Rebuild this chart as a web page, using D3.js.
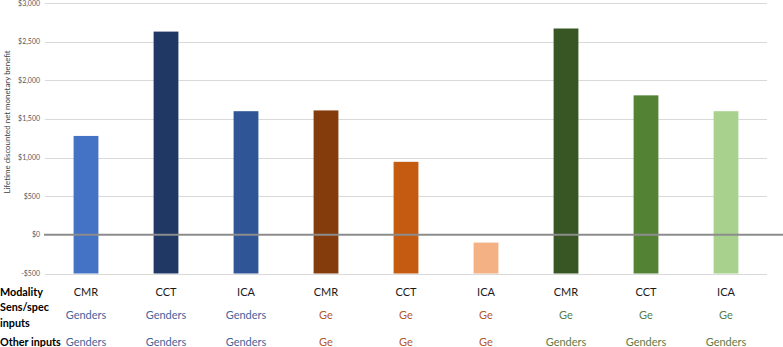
<!DOCTYPE html>
<html>
<head>
<meta charset="utf-8">
<script src="https://cdn.jsdelivr.net/npm/d3@7"></script>
<style>
  body { margin: 0; background: #fff; }
  svg { font-family: Lato, "Liberation Sans", sans-serif; }
</style>
</head>
<body>
<svg id="chart" width="783" height="347"></svg>
<script>
const modality = ['CMR', 'CCT', 'ICA', 'CMR', 'CCT', 'ICA', 'CMR', 'CCT', 'ICA']
const sensInputs = ['Genders', 'Genders', 'Genders', 'Ge', 'Ge', 'Ge', 'Ge', 'Ge', 'Ge']
const otherInputs = ['Genders', 'Genders', 'Genders', 'Ge', 'Ge', 'Ge', 'Genders', 'Genders', 'Genders']
const benefit = [1280, 2630, 1600, 1610, 945, -100, 2670, 1805, 1600]
const yTicks = [-500, 0, 500, 1000, 1500, 2000, 2500, 3000]
const groupOf = [0, 0, 0, 1, 1, 1, 2, 2, 2]

const barColors = ['#4472c4', '#1f3864', '#2f5597', '#843c0c', '#c55a11', '#f4b183', '#375623', '#548235', '#a9d18e']
const textColors = ['#44659a', '#b5582a', '#5b7d45']

const svg = d3.select('#chart')
const idx = d3.range(modality.length)

const x = d3.scaleBand()
.domain(idx)
.range([46, 766])
.paddingInner(0.69)
.paddingOuter(0.345)

const y = d3.scaleLinear()
.domain([-500, 3000])
.range([273.5, 3])

// gridlines
svg.append('g')
.selectAll('line')
.data(yTicks.filter(d => d !== 0))
.enter()
.append('line')
.attr('x1', 45)
.attr('x2', 767)
.attr('y1', d => Math.round(y(d)) + 0.5)
.attr('y2', d => Math.round(y(d)) + 0.5)
.style('stroke', '#d9d9d9')
.style('stroke-width', 1)

// y tick labels
svg.append('g')
.selectAll('text')
.data(yTicks)
.enter()
.append('text')
.attr('x', 40)
.attr('y', d => y(d) + 2.5)
.attr('text-anchor', 'end')
.style('font-size', '7px')
.style('fill', '#595959')
.text(d => (d < 0 ? '-$' : '$') + d3.format(',')(Math.abs(d)))

// y axis title
svg.append('text')
.attr('transform', 'translate(10,122) rotate(-90)')
.attr('text-anchor', 'middle')
.style('font-size', '7.9px')
.style('fill', '#404040')
.text('Lifetime discounted net monetary benefit')

// bars start from the axis bottom
svg.append('g')
.selectAll('rect')
.data(idx)
.enter()
.append('rect')
.attr('x', i => x(i))
.attr('width', x.bandwidth())
.attr('y', i => y(benefit[i]))
.attr('height', i => y(-500) - y(benefit[i]))
.style('fill', i => barColors[i])

// zero line
svg.append('line')
.attr('x1', 44)
.attr('x2', 783)
.attr('y1', y(0))
.attr('y2', y(0))
.style('stroke', '#8c8c8c')
.style('stroke-width', 2)

// table rows
const rowLabels = [
  {lines: ['Modality'], y: 292},
  {lines: ['Sens/spec', 'inputs'], y: 307},
  {lines: ['Other inputs'], y: 342}
]

rowLabels.forEach(r => {
  r.lines.forEach((l, k) => {
    svg.append('text')
    .attr('x', 0)
    .attr('y', r.y + k * 15.5 + 4)
    .style('font-size', '10.8px')
    .style('font-weight', 'bold')
    .style('fill', '#000')
    .text(l)
  })
})

const cells = svg.append('g')

cells.selectAll('.mod')
.data(idx)
.enter()
.append('text')
.attr('class', 'mod')
.attr('x', i => x(i) + x.bandwidth() / 2)
.attr('y', 296)
.attr('text-anchor', 'middle')
.style('font-size', '11px')
.style('fill', '#1a1a1a')
.text(i => modality[i])

cells.selectAll('.sens')
.data(idx)
.enter()
.append('text')
.attr('class', 'sens')
.attr('x', i => x(i) + x.bandwidth() / 2)
.attr('y', 319)
.attr('text-anchor', 'middle')
.style('font-size', '11px')
.style('fill', i => textColors[groupOf[i]])
.text(i => sensInputs[i])

cells.selectAll('.other')
.data(idx)
.enter()
.append('text')
.attr('class', 'other')
.attr('x', i => x(i) + x.bandwidth() / 2)
.attr('y', 345.5)
.attr('text-anchor', 'middle')
.style('font-size', '11px')
.style('fill', i => textColors[groupOf[i]])
.text(i => otherInputs[i])
</script>
</body>
</html>
